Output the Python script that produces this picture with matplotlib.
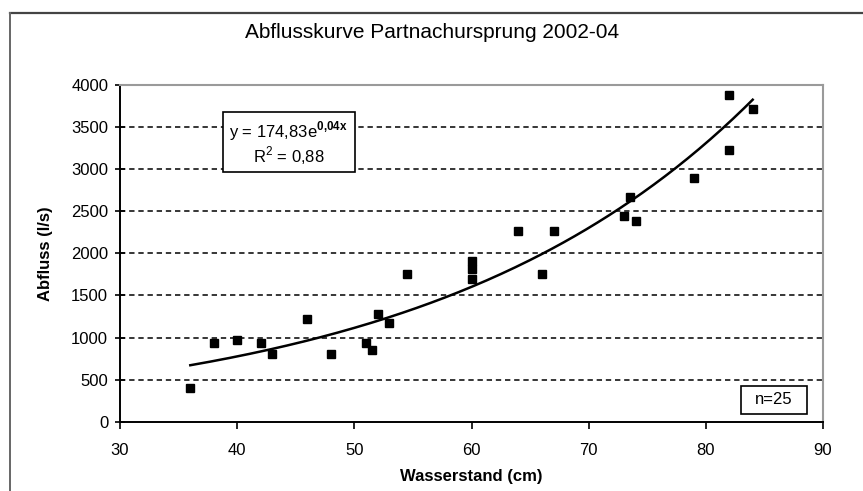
import numpy as np
import matplotlib
matplotlib.use("Agg")
import matplotlib.pyplot as plt
from matplotlib.patches import Rectangle
from matplotlib.lines import Line2D

plt.rcParams['font.family'] = ['Liberation Sans', 'DejaVu Sans']
plt.rcParams['mathtext.fontset'] = 'custom'
plt.rcParams['mathtext.rm'] = 'Liberation Sans'
plt.rcParams['mathtext.bf'] = 'Liberation Sans:bold'

# Data
wasserstand = [36, 38, 40, 42, 43, 46, 48, 51, 51.5, 52, 53, 54.5,
               60, 60, 60, 64, 66, 67, 73, 73.5, 74, 79, 82, 82, 84]
abfluss = [400, 940, 970, 940, 800, 1220, 800, 940, 850, 1280, 1170, 1760,
           1690, 1810, 1910, 2270, 1760, 2260, 2440, 2670, 2380, 2890, 3880, 3230, 3720]

title = "Abflusskurve Partnachursprung 2002-04"
xlabel = "Wasserstand (cm)"
ylabel = "Abfluss (l/s)"
xticks = [30, 40, 50, 60, 70, 80, 90]
yticks = [0, 500, 1000, 1500, 2000, 2500, 3000, 3500, 4000]

x = np.array(wasserstand, dtype=float)
y = np.array(abfluss, dtype=float)

# exponential trend line (least squares on log values)
b, lna = np.polyfit(x, np.log(y), 1)
a = np.exp(lna)
xf = np.linspace(x.min(), x.max(), 200)
yf = a * np.exp(b * xf)

fig = plt.figure(figsize=(8.63, 4.91), dpi=100)
fig.patch.set_facecolor('white')
ax = fig.add_axes([120/863, 1-421.7/491, 703/863, 336.7/491])

ax.set_xlim(30, 90)
ax.set_ylim(0, 4000)
ax.set_xticks(xticks)
ax.set_yticks(yticks)
ax.tick_params(axis='both', labelsize=12, colors='black', width=1.2)
ax.tick_params(axis='x', direction='out', length=5, pad=10)
ax.tick_params(axis='y', direction='inout', length=7, pad=5)

for yt in yticks[1:-1]:
    ax.axhline(yt, color='black', lw=1.1, ls=(0, (3.5, 2.5)), zorder=1)

ax.spines['left'].set_color('black')
ax.spines['bottom'].set_color('black')
ax.spines['left'].set_linewidth(1.4)
ax.spines['bottom'].set_linewidth(1.4)
ax.spines['top'].set_color('#9a9a9a')
ax.spines['right'].set_color('#9a9a9a')
ax.spines['top'].set_linewidth(1.5)
ax.spines['right'].set_linewidth(1.5)

ax.plot(xf, yf, color='black', lw=1.8, zorder=3)
ax.plot(x, y, ls='none', marker='s', ms=6, color='black', zorder=4)

ax.set_xlabel(xlabel, fontsize=12, fontweight='bold', labelpad=8)
ax.set_ylabel(ylabel, fontsize=12, fontweight='bold', labelpad=13)

fig.text(432/863, 1-33/491, title, fontsize=15, ha='center', va='center')

# equation box
x0, x1 = 0.146, 0.334
y0, y1 = 0.741, 0.919
ax.add_patch(Rectangle((x0, y0), x1-x0, y1-y0, transform=ax.transAxes,
                       facecolor='white', edgecolor='black', lw=1.2, zorder=5))
ax.text((x0+x1)/2, y1-0.055, "y = 174,83e$^{\\mathbf{0{,}04x}}$", transform=ax.transAxes,
        ha='center', va='center', fontsize=12, zorder=6)
ax.text((x0+x1)/2, y0+0.05, "R$^{\\mathregular{2}}$ = 0,88", transform=ax.transAxes,
        ha='center', va='center', fontsize=12, zorder=6)

# n box
nx0, nx1 = 0.883, 0.977
ny0, ny1 = 0.023, 0.106
ax.add_patch(Rectangle((nx0, ny0), nx1-nx0, ny1-ny0, transform=ax.transAxes,
                       facecolor='white', edgecolor='black', lw=1.2, zorder=5))
ax.text((nx0+nx1)/2, (ny0+ny1)/2, "n=25", transform=ax.transAxes,
        ha='center', va='center', fontsize=12, zorder=6)

# outer frame (top and left)
fig.add_artist(Line2D([10/863, 1.0], [1-12.5/491, 1-12.5/491], transform=fig.transFigure,
                      color='#444444', lw=1.6))
fig.add_artist(Line2D([10/863, 10/863], [1-12.5/491, 0.0], transform=fig.transFigure,
                      color='#666666', lw=1.4))

fig.savefig('out.png', dpi=100, facecolor='white')
